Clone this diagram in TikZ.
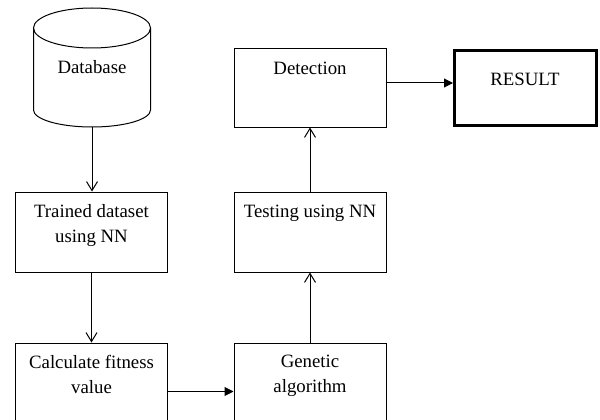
\documentclass[tikz,border=0pt]{standalone}
\usepackage{fontspec}
\setmainfont{Liberation Serif}
\usetikzlibrary{arrows.meta}
\begin{document}
\begin{tikzpicture}[x=1pt,y=-1pt,
  box/.style={draw, line width=1pt, minimum width=152pt, inner sep=0pt},
  lbl/.style={font=\fontsize{18.8}{25}\selectfont, align=center, inner sep=0pt, anchor=north},
  openarr/.style={line width=1pt, -{Straight Barb[length=9pt,width=11pt,line width=1pt]}},
  fillarr/.style={line width=1pt, -{Triangle[length=9pt,width=9pt]}}]
\useasboundingbox (0,0) rectangle (600,420);
\clip (0,0) rectangle (600,420);
% cylinder
\draw[line width=1pt] (33.5,28) -- (33.5,110) arc[start angle=180, end angle=0, x radius=58.5, y radius=17] -- (150.5,28);
\draw[line width=1pt] (92,28) ellipse [x radius=58.5, y radius=20];
\coordinate (dbb) at (92,127);
\node[lbl] (db) at (92,60) {Database};
% boxes
\node[box, minimum height=80pt] (trained) at (91.5,232) {};
\node[box, minimum height=97pt] (calc) at (91.5,391.5) {};
\node[box, minimum height=97pt] (genetic) at (310,391.5) {};
\node[box, minimum height=80pt] (testing) at (310,232) {};
\node[box, minimum height=78pt] (detection) at (310,88) {};
\node[draw, line width=3pt, minimum width=142pt, minimum height=75pt, inner sep=0pt] (result) at (525.5,88) {};
% labels
\node[lbl] (ttrained) at (91.5,204) {Trained dataset\\using NN};
\node[lbl] (tcalc) at (91.5,355) {Calculate fitness\\value};
\node[lbl] (tgenetic) at (310,355) {Genetic\\algorithm};
\node[lbl] (ttesting) at (310,205) {Testing using NN};
\node[lbl] (tdetection) at (310,62) {Detection};
\node[lbl] (tresult) at (525,73) {RESULT};
% connectors
\draw[openarr] (dbb) -- (dbb |- trained.north);
\draw[openarr] (trained.south) -- (calc.north);
\draw[fillarr] (calc.east) -- (genetic.west);
\draw[openarr] (genetic.north) -- (testing.south);
\draw[openarr] (testing.north) -- (detection.south);
\coordinate (dr) at ([yshift=5pt]detection.east);
\draw[fillarr] (dr) -- (dr -| result.west);
\end{tikzpicture}
\end{document}
